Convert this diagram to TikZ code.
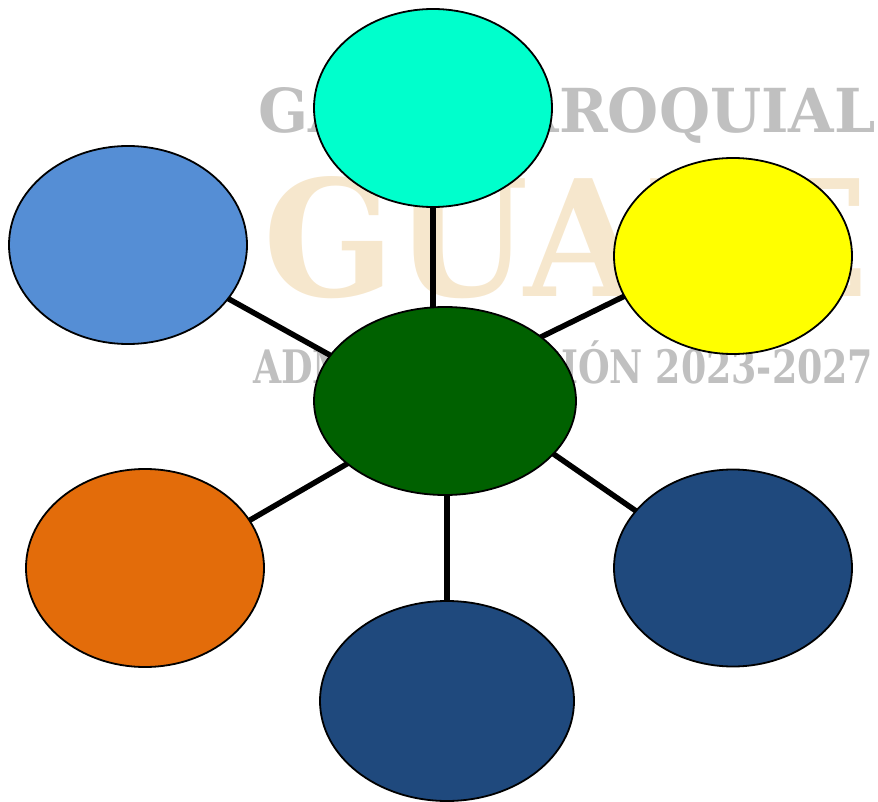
\documentclass[tikz,border=0pt]{standalone}
\usepackage{fontspec}
\usepackage{graphicx}
\usetikzlibrary{shapes.geometric,backgrounds,calc}
\newfontfamily\wmfont{DejaVu Serif}
\definecolor{wmgray}{RGB}{192,192,192}
\definecolor{wmbeige}{RGB}{246,231,205}
\definecolor{cyanfill}{RGB}{0,255,204}
\definecolor{bluefill}{RGB}{85,142,213}
\definecolor{yellowfill}{RGB}{255,255,0}
\definecolor{greenfill}{RGB}{0,97,0}
\definecolor{orangefill}{RGB}{227,108,10}
\definecolor{navyfill}{RGB}{31,73,125}
\tikzset{
  bubble/.style={ellipse, draw=black, line width=1.8pt, inner sep=0pt},
  link/.style={draw=black, line width=5.5pt},
  wm/.style={inner sep=0pt, anchor=base west}
}
\begin{document}
\begin{tikzpicture}[x=1pt,y=-1pt]
\useasboundingbox (0,0) rectangle (878,802);
% ellipses
\node[bubble, fill=cyanfill, minimum width=238pt, minimum height=198pt] (cyan) at (433,108) {};
\node[bubble, fill=bluefill, minimum width=238pt, minimum height=198pt] (blue) at (128,245) {};
\node[bubble, fill=yellowfill, minimum width=238pt, minimum height=196pt] (yellow) at (733,256) {};
\node[bubble, fill=greenfill, minimum width=262pt, minimum height=188pt] (green) at (445,401) {};
\node[bubble, fill=orangefill, minimum width=238pt, minimum height=198pt] (orange) at (145,568) {};
\node[bubble, fill=navyfill, minimum width=238pt, minimum height=197pt] (navy) at (733,568) {};
\node[bubble, fill=navyfill, minimum width=254pt, minimum height=200pt] (bottom) at (447,701) {};
\begin{scope}[on background layer]
  % watermark
  \node[wm, text=wmgray] (wm1) at (258,133) {\resizebox{617pt}{45pt}{\wmfont\bfseries GAD PARROQUIAL}};
  \node[wm, text=wmbeige] (wm2) at (263,296) {\resizebox{605pt}{120pt}{\wmfont\bfseries GUALE}};
  \node[wm, text=wmgray] (wm3) at (253,383) {\resizebox{620pt}{33pt}{\vphantom{A}\smash{\wmfont\bfseries ADMINISTRACIÓN 2023-2027}}};
  % connectors
  \draw[link] (cyan.center) -- (cyan.center |- green.center);
  \draw[link] (bottom.center) -- (bottom.center |- green.center);
  \draw[link] ($(blue.center)+(0,-2)$) -- ($(green.center)+(0,18)$);
  \draw[link] ($(yellow.center)+(0,-13)$) -- ($(green.center)+(0,-17)$);
  \draw[link] ($(orange.center)+(0,13)$) -- ($(green.center)+(0,6)$);
  \draw[link] ($(navy.center)+(0,10)$) -- ($(green.center)+(0,-22)$);
\end{scope}
\end{tikzpicture}
\end{document}
